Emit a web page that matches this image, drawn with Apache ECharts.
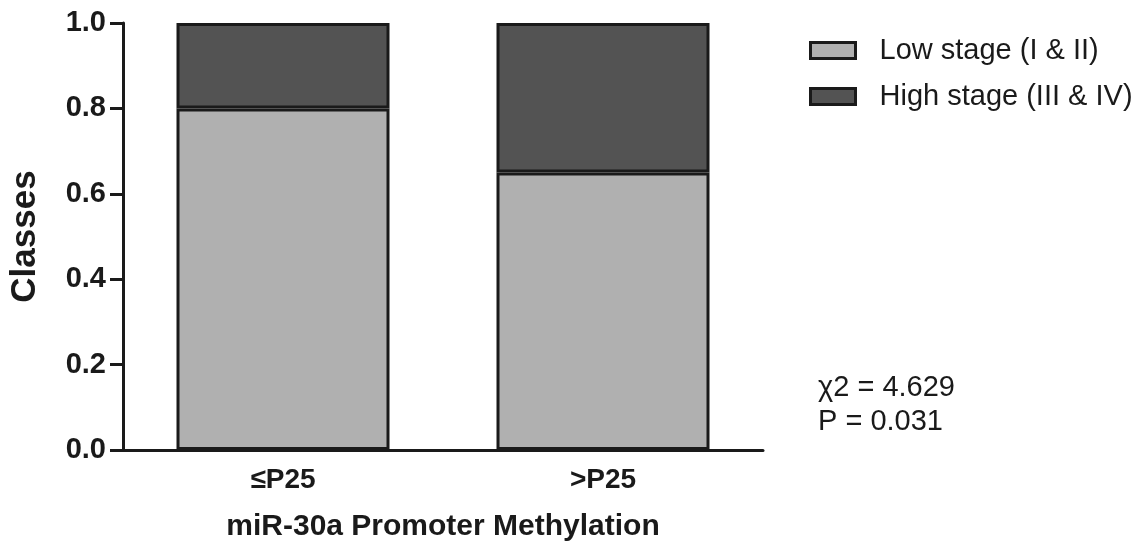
<!DOCTYPE html>
<html>
<head>
<meta charset="utf-8">
<script src="https://cdn.jsdelivr.net/npm/echarts@6/dist/echarts.min.js"></script>
<style>
  html, body { margin: 0; padding: 0; background: #ffffff; }
  #chart { width: 1142px; height: 547px; }
</style>
</head>
<body>
<div id="chart"></div>
<script>
// Tumour stage proportions by miR-30a promoter methylation group
const categories = ['\u2264P25', '>P25'];
const lowStage = [0.80, 0.65];
const highStage = [0.20, 0.35];
const seriesNames = ['Low stage (I & II)', 'High stage (III & IV)'];
const statLines = ['\u03c72 = 4.629', 'P = 0.031'];

const ink = '#1a1a1a';
const font = '"Liberation Sans", Arial, sans-serif';

const chart = echarts.init(document.getElementById('chart'));
chart.setOption({
  backgroundColor: '#ffffff',
  animation: false,
  grid: { left: 120, right: 379, top: 23, bottom: 94 },
  legend: {
    orient: 'vertical',
    left: 804,
    top: 31,
    itemWidth: 45,
    itemHeight: 16,
    itemGap: 17,
    icon: 'rect',
    itemStyle: { borderColor: ink, borderWidth: 3 },
    textStyle: { fontFamily: font, fontSize: 29, color: '#1a1a1a', lineHeight: 20, padding: [0, 0, 0, 19] },
    data: seriesNames
  },
  xAxis: {
    type: 'category',
    data: categories,
    name: 'miR-30a Promoter Methylation',
    nameLocation: 'middle',
    nameGap: 62,
    nameTextStyle: { fontFamily: font, fontSize: 30, fontWeight: 'bold', color: ink },
    axisLine: { lineStyle: { color: ink, width: 3 } },
    axisTick: { alignWithLabel: true, length: 12, lineStyle: { color: ink, width: 3 } },
    axisLabel: { fontFamily: font, fontSize: 28, fontWeight: 'bold', color: ink, margin: 16 }
  },
  yAxis: {
    type: 'value',
    min: 0,
    max: 1,
    interval: 0.2,
    name: 'Classes',
    nameLocation: 'middle',
    nameGap: 80,
    nameTextStyle: { fontFamily: font, fontSize: 35, fontWeight: 'bold', color: ink },
    splitLine: { show: false },
    axisLine: { show: true, lineStyle: { color: ink, width: 3 } },
    axisTick: { show: true, length: 13, lineStyle: { color: ink, width: 3 } },
    axisLabel: {
      fontFamily: font, fontSize: 29, fontWeight: 'bold', color: ink, margin: 17,
      formatter: v => v.toFixed(1)
    }
  },
  series: [
    {
      name: seriesNames[0],
      type: 'bar',
      stack: 'stage',
      barWidth: 213,
      data: lowStage,
      itemStyle: { color: '#b0b0b0', borderColor: ink, borderWidth: 3 }
    },
    {
      name: seriesNames[1],
      type: 'bar',
      stack: 'stage',
      barWidth: 213,
      data: highStage,
      itemStyle: { color: '#535353', borderColor: ink, borderWidth: 3 }
    }
  ],
  graphic: [
    {
      type: 'text',
      left: 818,
      top: 371,
      style: {
        text: statLines.join('\n'),
        font: '29px ' + font,
        fill: '#1a1a1a',
        lineHeight: 34
      }
    }
  ]
});
</script>
</body>
</html>
